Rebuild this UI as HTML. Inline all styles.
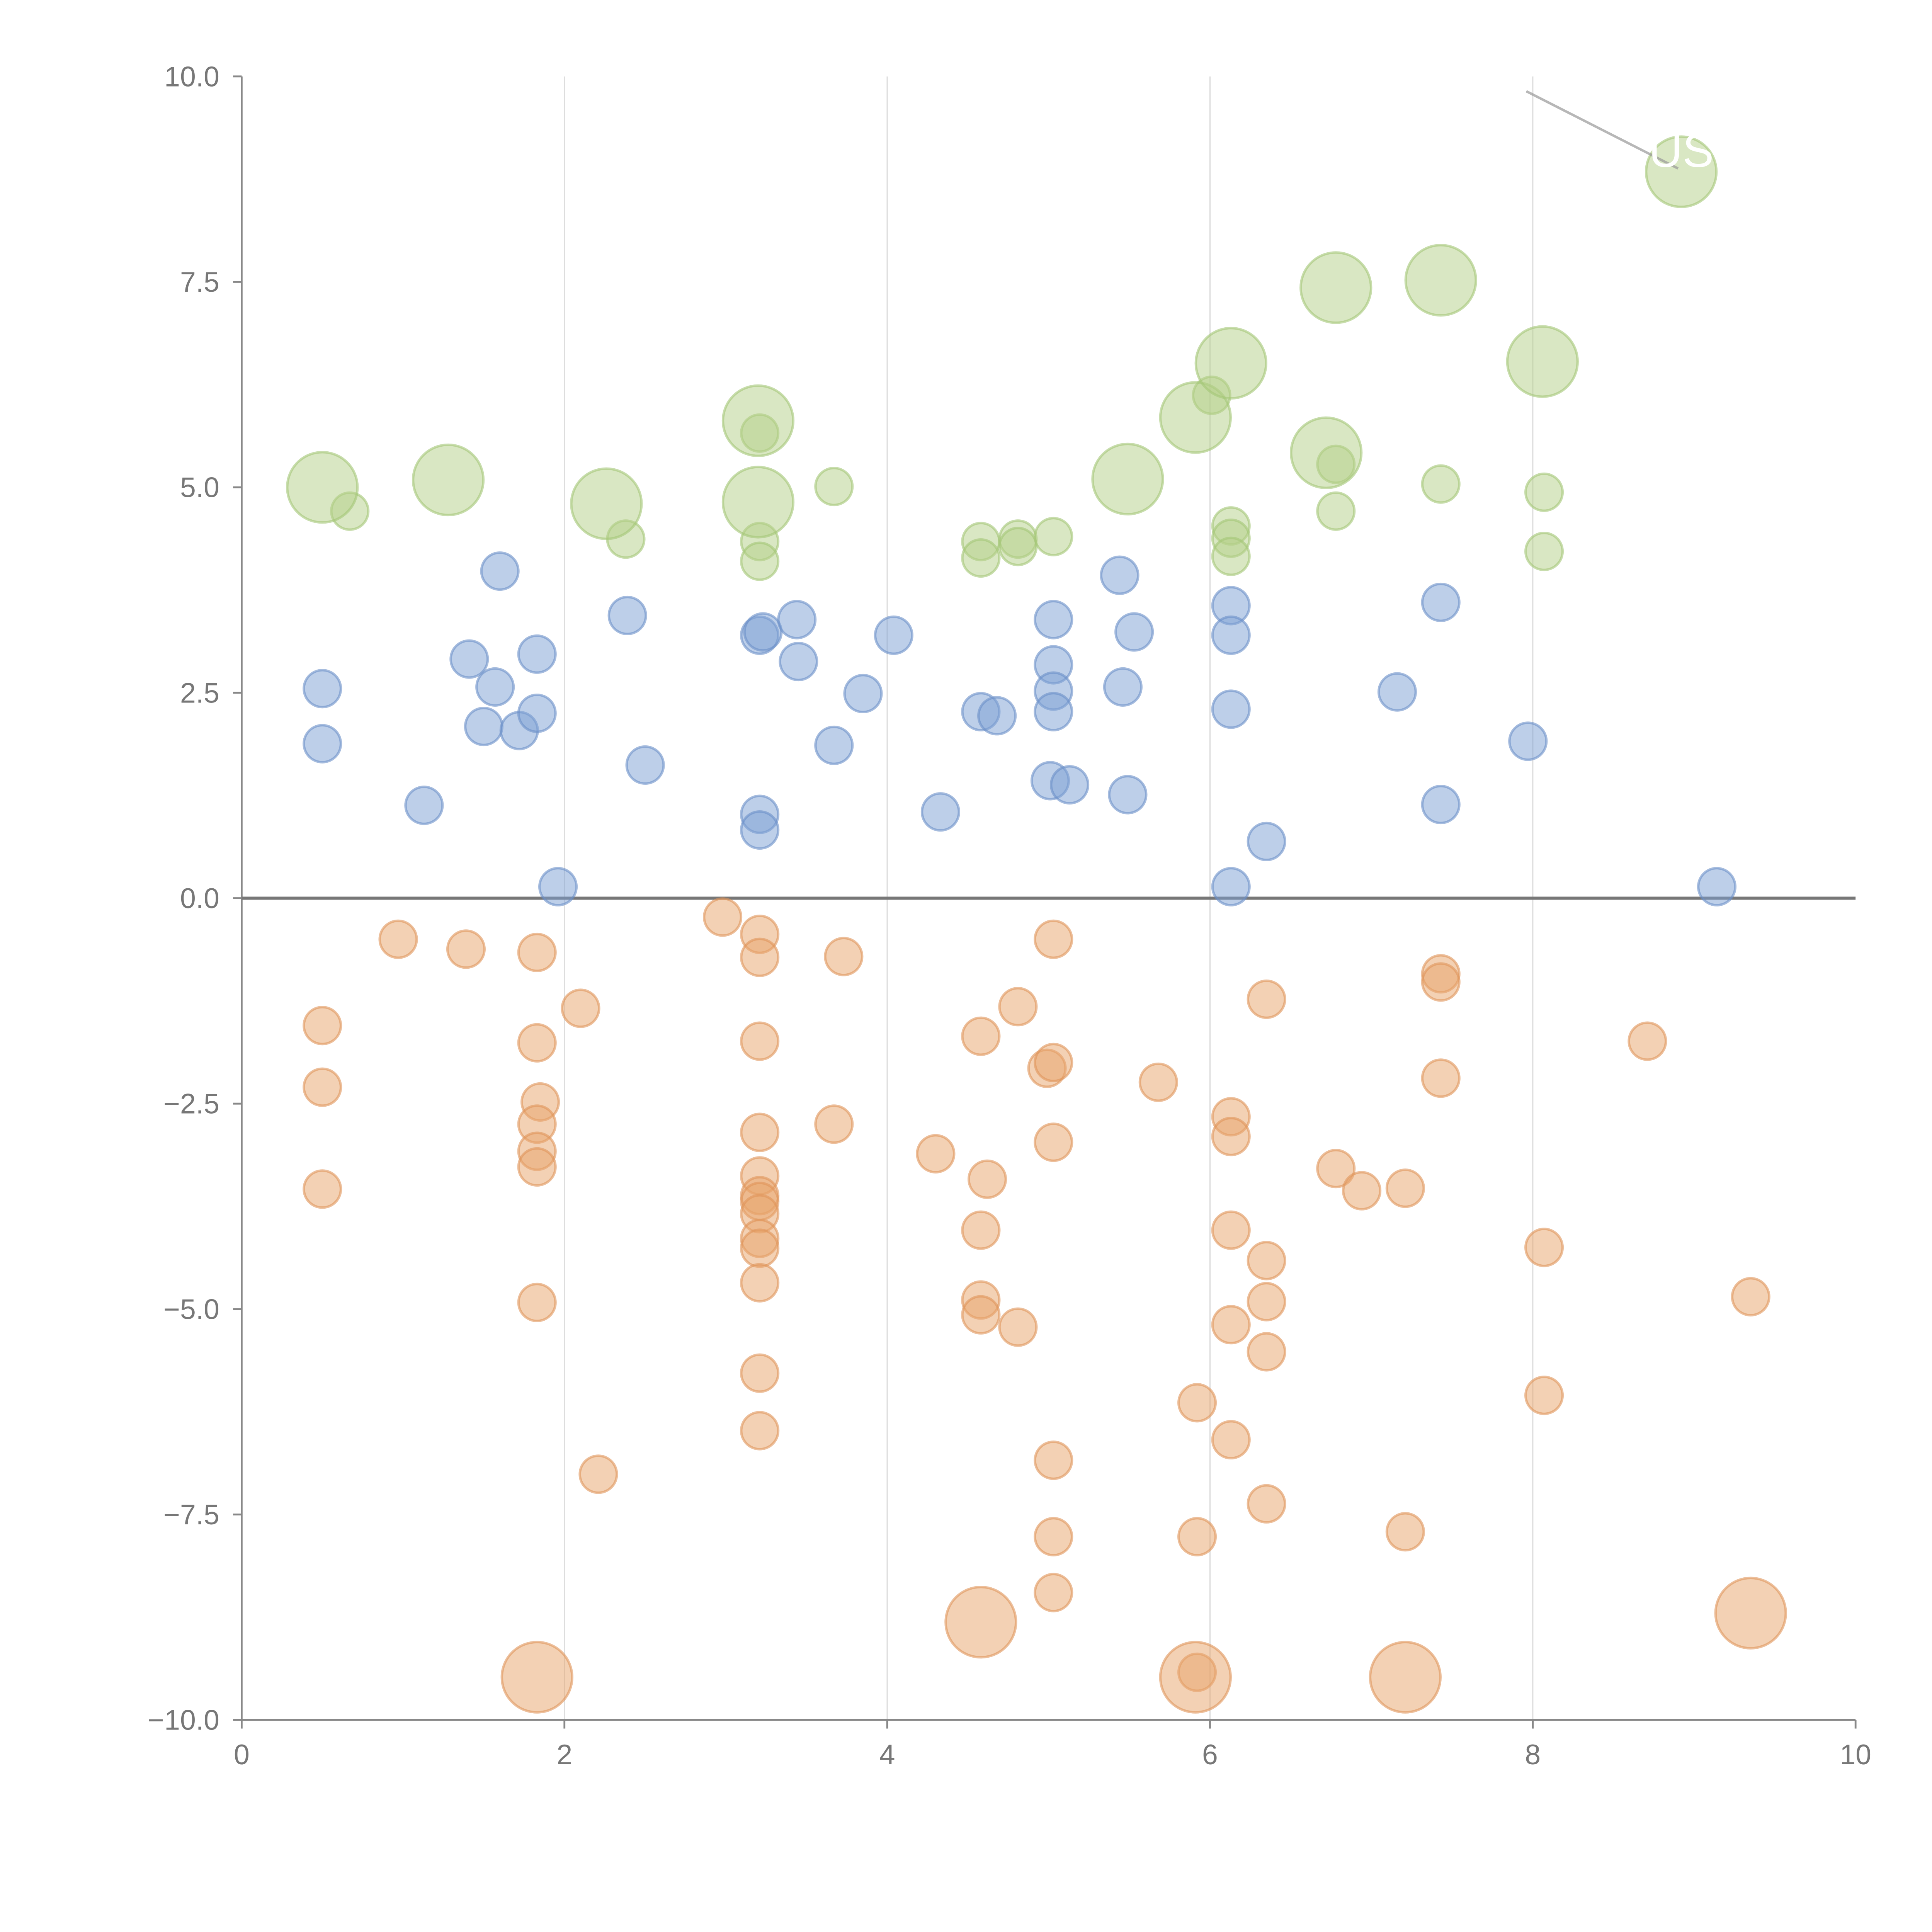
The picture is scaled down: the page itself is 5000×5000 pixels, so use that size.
<!DOCTYPE html>
<html><head><meta charset="utf-8"><style>html,body{margin:0;padding:0;background:#fff}svg{display:block}</style></head>
<body>
<svg id="chart" width="5000" height="5000" viewBox="0 0 1567 1567" xmlns="http://www.w3.org/2000/svg" font-family="Liberation Sans, sans-serif">
<g id="grid"></g>
<g id="axes"></g>
<g id="marks"></g>
<g id="annot"></g>
</svg>
<script>
const xTicks=[0,2,4,6,8,10];
const xTickLabels=["0","2","4","6","8","10"];
const yTicks=[10,7.5,5,2.5,0,-2.5,-5,-7.5,-10];
const yTickLabels=["10.0","7.5","5.0","2.5","0.0","\u22122.5","\u22125.0","\u22127.5","\u221210.0"];
const blueX=[0.50,0.50,1.13,1.41,1.50,1.57,1.60,1.72,1.83,1.83,1.96,2.39,2.50,3.21,3.21,3.21,3.23,3.44,3.45,3.67,3.85,4.04,4.33,4.58,4.68,5.01,5.03,5.03,5.03,5.03,5.13,5.44,5.46,5.49,5.53,6.13,6.13,6.13,6.13,6.35,7.16,7.43,7.43,7.97,9.14];
const blueY=[2.55,1.88,1.13,2.91,2.09,2.57,3.98,2.04,2.97,2.25,0.14,3.44,1.62,3.20,1.02,0.83,3.24,3.39,2.88,1.86,2.49,3.20,1.05,2.27,2.22,1.43,3.39,2.84,2.52,2.27,1.38,3.93,2.57,1.26,3.24,3.56,3.20,2.30,0.14,0.69,2.51,3.60,1.14,1.91,0.14];
const greenX=[0.67,2.38,3.21,3.21,3.21,3.67,4.58,4.58,4.81,4.81,5.03,6.01,6.13,6.13,6.13,6.78,6.78,7.43,8.07,8.07,0.50,1.28,2.26,3.20,3.20,5.49,5.91,6.13,6.72,6.78,7.43,8.06,8.92];
const greenY=[4.71,4.37,5.66,4.34,4.10,5.01,4.34,4.14,4.37,4.28,4.40,6.12,4.53,4.38,4.16,5.28,4.71,5.04,4.94,4.22,5.00,5.09,4.80,5.81,4.82,5.10,5.85,6.51,5.42,7.43,7.52,6.53,8.84];
const greenSize=[1,1,1,1,1,1,1,1,1,1,1,1,1,1,1,1,1,1,1,1,3,3,3,3,3,3,3,3,3,3,3,3,3];
const orangeX=[0.97,1.39,1.83,2.10,0.50,0.50,0.50,1.83,1.85,1.83,1.83,1.83,1.83,2.21,2.98,3.21,3.21,3.21,3.21,3.21,3.21,3.21,3.21,3.21,3.21,3.21,3.21,3.21,3.67,3.73,4.30,4.58,4.62,4.58,4.58,4.58,4.81,4.81,4.99,5.03,5.03,5.03,5.03,5.03,5.03,5.68,5.92,5.92,5.92,6.13,6.13,6.13,6.13,6.13,6.35,6.35,6.35,6.35,6.35,6.78,6.94,7.21,7.21,7.43,7.43,7.43,8.07,8.07,8.71,9.35,1.83,4.58,5.91,7.21,9.35];
const orangeY=[-0.50,-0.62,-0.66,-1.34,-1.55,-2.30,-3.54,-1.76,-2.48,-2.75,-3.08,-3.27,-4.92,-7.01,-0.23,-0.44,-0.72,-1.74,-2.85,-3.38,-3.62,-3.69,-3.84,-4.14,-4.26,-4.68,-5.78,-6.48,-2.75,-0.71,-3.11,-1.68,-3.42,-4.04,-4.89,-5.07,-1.32,-5.22,-2.07,-0.50,-2.00,-2.97,-6.84,-7.77,-8.45,-2.24,-6.14,-7.77,-9.42,-2.66,-2.90,-4.04,-5.19,-6.59,-1.23,-4.41,-4.91,-5.52,-7.37,-3.29,-3.56,-3.53,-7.71,-0.92,-1.02,-2.19,-4.25,-6.05,-1.74,-4.85,-9.48,-8.81,-9.48,-9.48,-8.70];
const orangeSize=orangeX.map((v,i)=>i>=70?3:1);
const blueSize=blueX.map(()=>1);

const NS="http://www.w3.org/2000/svg";
const X0=196,X1=1505,Y0=62,Y1=1395;
function sx(v){return X0+(v-0)/(10-0)*(X1-X0);}
function sy(v){return Y1-(v+10)/20*(Y1-Y0);}
function rr(s){return s===3?28.5:15;}
function mk(tag,attrs,parent){const e=document.createElementNS(NS,tag);for(const k in attrs)e.setAttribute(k,attrs[k]);parent.appendChild(e);return e;}
const grid=document.getElementById('grid'),axes=document.getElementById('axes'),marks=document.getElementById('marks'),annot=document.getElementById('annot');

xTicks.forEach((t,i)=>{
  if(t>0&&t<10){const g=mk('line',{x1:sx(t),x2:sx(t),y1:Y0,y2:Y1,stroke:'#dddddd','stroke-width':1},grid);
  
  }
  const tk=mk('line',{x1:sx(t),x2:sx(t),y1:Y1,y2:Y1+7,stroke:'#888','stroke-width':1.5},axes);
  
  
  const tx=mk('text',{x:sx(t),y:Y1+36,'text-anchor':'middle','font-size':23,fill:'#777'},axes);
  tx.textContent=xTickLabels[i];
  
  
});
yTicks.forEach((t,i)=>{
  const tk=mk('line',{x1:X0-7,x2:X0,y1:sy(t),y2:sy(t),stroke:'#888','stroke-width':1.5},axes);
  
  
  const tx=mk('text',{x:X0-18,y:sy(t)+8,'text-anchor':'end','font-size':23,fill:'#777'},axes);
  tx.textContent=yTickLabels[i];
  
  
});
const ya=mk('line',{x1:X0,x2:X0,y1:Y0,y2:Y1,stroke:'#888','stroke-width':1.5},axes);


const xa=mk('line',{x1:X0,x2:X1,y1:Y1,y2:Y1,stroke:'#888','stroke-width':1.5},axes);


const zl=mk('line',{x1:X0,x2:X1,y1:sy(0),y2:sy(0),stroke:'#777','stroke-width':2.5},axes);



function series(xs,ys,ss,fill,stroke,name){
  xs.forEach((x,i)=>{
    const c=mk('circle',{cx:sx(x),cy:sy(ys[i]),r:rr(ss[i]),fill:fill,'fill-opacity':0.5,stroke:stroke,'stroke-opacity':0.6,'stroke-width':2},marks);
    
    
  });
}
series(orangeX,orangeY,orangeSize,'#e8a46a','#e0945a','bubble-negative');
series(blueX,blueY,blueSize,'#7c9fd4','#6b8fc8','bubble-positive');
series(greenX,greenY,greenSize,'#b3cf87','#a3c677','bubble-highlight');

const al=mk('line',{x1:sx(7.96),y1:sy(9.82),x2:sx(8.9),y2:sy(8.88),stroke:'#999','stroke-opacity':0.7,'stroke-width':2},annot);


const lt=mk('text',{x:sx(8.92),y:sy(8.84)-4,'text-anchor':'middle','font-size':38,fill:'#ffffff'},annot);
lt.textContent='US';


</script>
</body></html>
